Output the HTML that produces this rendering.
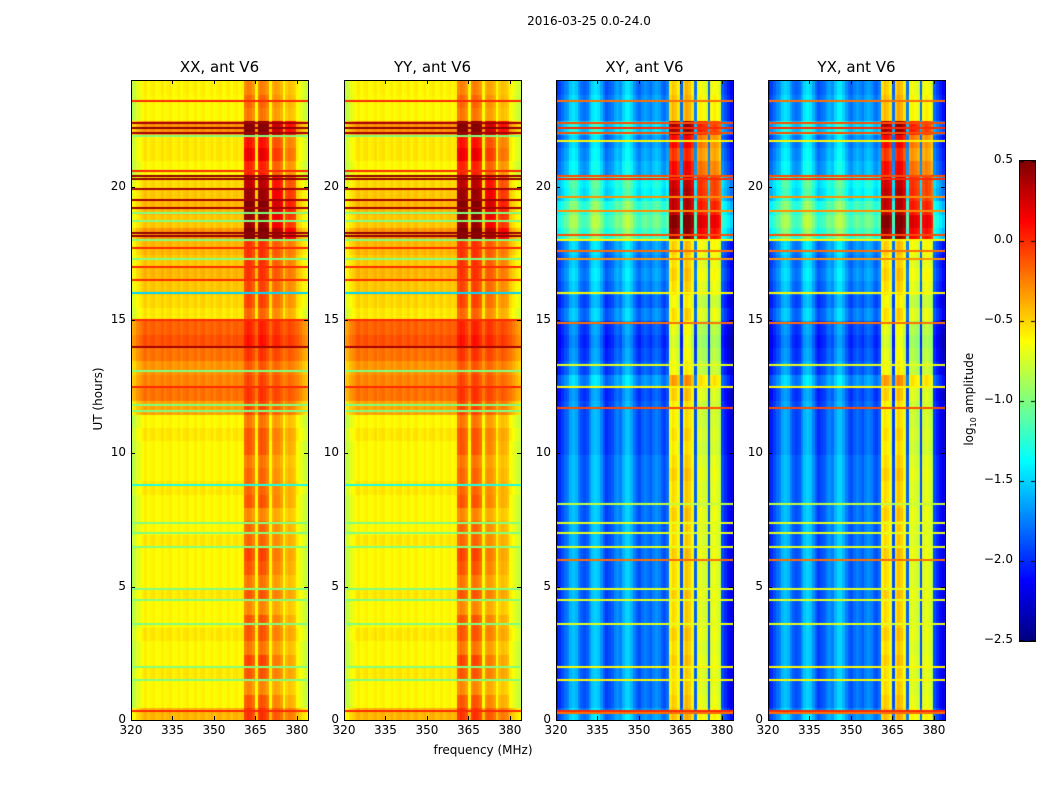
<!DOCTYPE html>
<html><head><meta charset="utf-8">
<style>
body{margin:0;background:#fff;width:1050px;height:800px;position:relative;overflow:hidden;font-family:"DejaVu Sans","Liberation Sans",sans-serif;color:#000}
.abs{position:absolute}
.panel{position:absolute;border:1px solid #000;box-sizing:border-box}
.ttl{position:absolute;font-size:15px;text-align:center;width:200px}
.tick{position:absolute;font-size:12px;white-space:nowrap}
</style></head><body>
<div class="abs" style="left:489px;top:14px;width:200px;text-align:center;font-size:12px">2016-03-25 0.0-24.0</div>
<div class="abs" style="left:48px;top:392px;width:100px;text-align:center;font-size:12px;transform:rotate(-90deg)">UT (hours)</div>
<div class="abs" style="left:383px;top:743px;width:200px;text-align:center;font-size:12px">frequency (MHz)</div>
<div class="abs" style="left:900px;top:391px;width:140px;text-align:center;font-size:12px;transform:rotate(-90deg)">log<sub style="font-size:8px">10</sub> amplitude</div>
<div id="root"></div>
<script>
// ---- data ----
const freqs=[320,321,322,323,324,325,326,327,328,329,330,331,332,333,334,335,336,337,338,339,340,341,342,343,344,345,346,347,348,349,350,351,352,353,354,355,356,357,358,359,360,361,362,363,364,365,366,367,368,369,370,371,372,373,374,375,376,377,378,379,380,381,382,383];
const freqAuto=[-0.85,-0.8,-0.72,-0.68,-0.62,-0.58,-0.64,-0.6,-0.58,-0.64,-0.62,-0.58,-0.64,-0.6,-0.58,-0.64,-0.62,-0.58,-0.64,-0.6,-0.58,-0.64,-0.62,-0.58,-0.64,-0.6,-0.58,-0.64,-0.62,-0.58,-0.64,-0.6,-0.58,-0.64,-0.62,-0.58,-0.64,-0.6,-0.58,-0.62,-0.6,-0.5,-0.45,-0.48,-0.55,-0.62,-0.5,-0.45,-0.48,-0.55,-0.62,-0.55,-0.5,-0.52,-0.58,-0.62,-0.6,-0.55,-0.58,-0.62,-0.62,-0.68,-0.75,-0.8];
const freqCross=[-2.1,-2.0,-1.9,-1.8,-1.75,-1.6,-1.55,-1.6,-1.75,-1.85,-1.9,-1.85,-1.7,-1.55,-1.5,-1.55,-1.7,-1.85,-1.95,-1.9,-1.85,-1.75,-1.7,-1.75,-1.6,-1.5,-1.5,-1.6,-1.75,-1.85,-1.9,-1.8,-1.75,-1.8,-1.85,-1.75,-1.7,-1.75,-1.85,-1.9,-1.8,-0.75,-0.65,-0.7,-0.8,-1.9,-0.7,-0.6,-0.65,-0.8,-1.85,-0.85,-0.8,-0.85,-0.9,-1.9,-0.8,-0.75,-0.8,-0.9,-1.9,-2.0,-2.1,-2.2];
const bandWeight=[0,0,0,0,0,0,0,0,0,0,0,0,0,0,0,0,0,0,0,0,0,0,0,0,0,0,0,0,0,0,0,0,0,0,0,0,0,0,0,0,0,1,1,1,1,0,1,1,1,1,0,0.7,0.7,0.7,0.7,0,0.5,0.5,0.5,0.5,0,0,0,0];
const timeAuto=[0.2,0,0,0.05,0,0,0.05,0,0,0.05,0,0,0,0.05,0,0,0,0.05,0,0,0,0.05,0,0.25,0.4,0.35,0.3,0.4,0.5,0.45,0.05,0.1,0.15,0.2,0.15,0.2,0.3,0.15,0.2,0.15,0.1,0,0.05,0.05,0.3,0,0,0.02];
const boostAuto=[0.25,0.35,0.2,0.3,0.4,0.25,0.3,0.35,0.2,0.3,0.25,0.35,0.4,0.25,0.3,0.2,0.35,0.25,0.3,0.25,0.35,0.3,0.25,0.15,0.05,0.05,0.05,0.05,0.05,0.05,0.25,0.3,0.25,0.25,0.3,0.25,0.8,0.75,0.8,0.75,0.7,0.5,0.6,0.5,0.7,0.25,0.3,0.2];
const timeCross=[0.1,0,0,0,0,0,0,0,0,0,0,0,0,0,0,0,0,0,0,0,-0.05,-0.05,-0.05,-0.05,-0.1,0.1,-0.05,-0.1,-0.15,-0.1,0.05,-0.05,0.05,0.1,0.05,0.1,0.6,0.7,0.6,0.4,0.45,0.2,0.15,0.1,0.3,0.1,0.1,0.05];
const boostCross=[0.15,0.2,0.15,0.15,0.2,0.15,0.2,0.15,0.15,0.2,0.15,0.15,0.2,0.15,0.15,0.2,0.15,0.15,0.2,0.15,0.15,0.2,0.15,0.15,0.3,0.25,0.1,0.1,0.1,0.1,0.1,0.1,0.1,0.1,0.1,0.1,0.5,0.5,0.4,0.6,0.5,0.6,0.5,0.7,0.8,0.15,0.15,0.15];
const lineHoursAuto=[0.35,1.5,2.0,3.6,4.5,4.9,6.5,7.0,7.4,8.8,11.6,11.8,12.5,13.1,14.0,15.0,16.0,16.5,17.0,17.3,17.7,18.0,18.15,18.25,18.7,19.0,19.2,19.5,19.9,20.3,20.4,20.6,21.9,22.0,22.2,22.4,23.2];
const lineValsAuto=[0.0,-1.0,-1.0,-1.0,-1.0,-1.0,-1.0,-1.0,-1.0,-1.3,-1.0,-1.0,0.0,-1.0,0.4,0.0,-1.5,0.0,0.0,-1.0,0.0,-1.0,0.45,0.45,-1.0,-1.0,0.4,0.4,0.4,0.45,0.45,0.0,-1.0,0.4,0.45,0.4,0.0];
const lineHoursCross=[0.25,0.35,1.5,2.0,3.6,4.5,4.9,6.0,6.5,7.0,7.4,8.1,11.7,12.5,13.3,14.9,16.0,17.3,17.6,18.0,18.2,19.1,19.6,20.3,20.4,21.7,22.0,22.2,22.4,23.2];
const lineValsCross=[-0.2,0.0,-0.6,-0.6,-0.7,-0.7,-0.7,-0.2,-0.7,-0.7,-0.7,-0.8,-0.1,-0.6,-0.7,-0.2,-0.6,-0.3,-0.2,-0.6,-0.1,-0.3,-0.3,0.0,-0.1,-0.6,-0.1,0.0,-0.1,-0.2];
const xTicks=[320,335,350,365,380];
const yTicks=[0,5,10,15,20];
const cbTicks=[0.5,0.0,-0.5,-1.0,-1.5,-2.0,-2.5];
const panels=[{name:'XX, ant V6',left:131,fr:freqAuto,tm:timeAuto,bs:boostAuto,lh:lineHoursAuto,lv:lineValsAuto},
{name:'YY, ant V6',left:344,fr:freqAuto,tm:timeAuto,bs:boostAuto,lh:lineHoursAuto,lv:lineValsAuto},
{name:'XY, ant V6',left:556,fr:freqCross,tm:timeCross,bs:boostCross,lh:lineHoursCross,lv:lineValsCross},
{name:'YX, ant V6',left:768,fr:freqCross,tm:timeCross,bs:boostCross,lh:lineHoursCross,lv:lineValsCross}];
// ---- rendering ----
const TOP=80,W=177,H=640,VMIN=-2.5,VMAX=0.5;
const xS=f=>(f-320)/64*W, yS=h=>H-h/24*H;
function cl(v){return Math.max(0,Math.min(1,v))}
function jet(v){const x=cl((v-VMIN)/(VMAX-VMIN));return 'rgb('+Math.round(255*cl(1.5-Math.abs(4*x-3)))+','+Math.round(255*cl(1.5-Math.abs(4*x-2)))+','+Math.round(255*cl(1.5-Math.abs(4*x-1)))+')'}
const root=document.getElementById('root');
function mk(tag,css){const e=document.createElement(tag);e.style.cssText=css;root.appendChild(e);return e}
panels.forEach((p,pi)=>{
  const slug=p.name.split(',')[0].toLowerCase();
  const t=mk('div','left:'+(p.left+W/2-100)+'px;top:58px');t.className='ttl';t.textContent=p.name;
  
  
  const c=document.createElement('canvas');c.width=W;c.height=H;c.style.cssText='position:absolute;left:'+p.left+'px;top:'+TOP+'px';root.appendChild(c);
  
  
  const g=c.getContext('2d');
  for(let ti=0;ti<p.tm.length;ti++){
    const h0=ti*24/p.tm.length,h1=(ti+1)*24/p.tm.length;
    for(let fi=0;fi<freqs.length;fi++){
      g.fillStyle=jet(p.fr[fi]+p.tm[ti]+bandWeight[fi]*p.bs[ti]);
      const x0=xS(freqs[fi]),x1=xS(freqs[fi]+1);
      g.fillRect(Math.floor(x0),Math.floor(yS(h1)),Math.ceil(x1-x0)+1,Math.ceil(yS(h0)-yS(h1))+1);
    }
  }
  for(let li=0;li<p.lh.length;li++){g.fillStyle=jet(p.lv[li]);g.fillRect(0,Math.round(yS(p.lh[li]))-1,W,2)}
  const fr=mk('div','left:'+p.left+'px;top:'+TOP+'px;width:'+(W+1)+'px;height:'+(H+1)+'px');fr.className='panel';
  
  
  xTicks.forEach(v=>{const x=p.left+xS(v);
    mk('div','position:absolute;left:'+x+'px;top:'+(TOP+H-4)+'px;width:1px;height:4px;background:#000');
    mk('div','position:absolute;left:'+x+'px;top:'+TOP+'px;width:1px;height:4px;background:#000');
    const l=mk('div','left:'+(x-20)+'px;top:'+(TOP+H+3)+'px;width:40px;text-align:center');l.className='tick';l.textContent=v;
    
    });
  yTicks.forEach(v=>{const y=TOP+yS(v);
    mk('div','position:absolute;left:'+p.left+'px;top:'+y+'px;width:4px;height:1px;background:#000');
    mk('div','position:absolute;left:'+(p.left+W-4)+'px;top:'+y+'px;width:4px;height:1px;background:#000');
    const l=mk('div','left:'+(p.left-45)+'px;top:'+(y-8)+'px;width:40px;text-align:right');l.className='tick';l.textContent=v;
    
    });
});
// colorbar
const cb=document.createElement('canvas');cb.width=15;cb.height=480;cb.style.cssText='position:absolute;left:1019px;top:160px;border:1px solid #000;box-sizing:content-box';root.appendChild(cb);


const cg=cb.getContext('2d');
for(let i=0;i<480;i++){cg.fillStyle=jet(VMAX-(i+0.5)/480*(VMAX-VMIN));cg.fillRect(0,i,15,1)}
cbTicks.forEach(v=>{const y=(VMAX-v)/(VMAX-VMIN)*480;
  cg.fillStyle='#000';cg.fillRect(0,Math.min(479,Math.round(y)),4,1);cg.fillRect(11,Math.min(479,Math.round(y)),4,1);
  const l=mk('div','left:973px;top:'+(160+y-8)+'px;width:40px;text-align:right');l.className='tick';l.textContent=v.toFixed(1).replace('-','\u2212');
  
  });
</script>
</body></html>
